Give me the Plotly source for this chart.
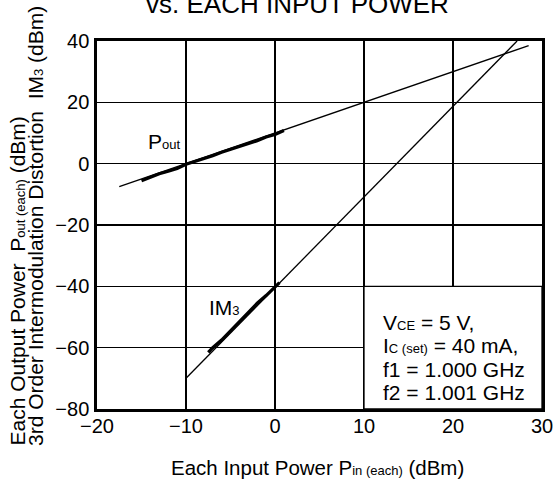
import plotly.graph_objects as go

# ---- data ----
pout_line_x = [-17.5, 28.5]
pout_line_y = [-7.5, 38.5]
im3_line_x = [-10, 27.2]
im3_line_y = [-70, 40]

pout_meas_x = [-15, -14, -13, -12, -11, -10, -9, -8, -7, -6, -5, -4, -3, -2, -1, 0, 1]
pout_meas_y = [-5.6, -4.4, -3.3, -2.5, -1.6, -0.2, 0.7, 1.6, 2.6, 3.7, 4.6, 5.5, 6.4, 7.5, 8.7, 9.5, 10.8]

im3_meas_x = [-7.5, -7, -6, -5, -4, -3, -2, -1, 0, 0.5]
im3_meas_y = [-61.5, -60, -57.5, -54.5, -51.5, -48.5, -45.5, -43, -40.3, -38.8]

x_ticks = [-20, -10, 0, 10, 20, 30]
y_ticks = [-80, -60, -40, -20, 0, 20, 40]

cond_lines = [
    "V<span style='font-size:13px'>CE</span> = 5 V,",
    "I<span style='font-size:13px'>C (set)</span> = 40 mA,",
    "f1 = 1.000 GHz",
    "f2 = 1.001 GHz",
]

# ---- layout geometry ----
W, H = 553, 485
L, R, T, B = 97, 11, 41, 76
PW, PH = W - L - R, H - T - B
FONT = "Liberation Sans, Arial, Helvetica, sans-serif"

def pxx(px):  # pixel -> paper x
    return (px - L) / PW

def pyy(py):  # pixel -> paper y
    return (H - B - py) / PH

def lab(v):
    return ("\u2212" + str(-v)) if v < 0 else str(v)

fig = go.Figure()
fig.add_trace(go.Scatter(x=pout_line_x, y=pout_line_y, mode="lines",
                         line=dict(color="black", width=1.3), hoverinfo="skip"))
fig.add_trace(go.Scatter(x=im3_line_x, y=im3_line_y, mode="lines",
                         line=dict(color="black", width=1.3), hoverinfo="skip"))
fig.add_trace(go.Scatter(x=pout_meas_x, y=pout_meas_y, mode="lines",
                         line=dict(color="black", width=3.2), hoverinfo="skip"))
fig.add_trace(go.Scatter(x=im3_meas_x, y=im3_meas_y, mode="lines",
                         line=dict(color="black", width=3.2), hoverinfo="skip"))

# condition box (white, covers grid)
fig.add_shape(type="rect", xref="x", yref="y", x0=10, x1=30, y0=-80, y1=-40,
              fillcolor="white", line=dict(color="black", width=1.3), layer="between")

annots = []
big = 21
for i, t in enumerate(cond_lines):
    annots.append(dict(xref="paper", yref="paper", x=pxx(381), y=pyy(322.5 + i * 23.3),
                       xanchor="left", yanchor="middle", text=t, showarrow=False,
                       font=dict(size=big, color="black", family=FONT)))
annots.append(dict(xref="paper", yref="paper", x=pxx(146), y=pyy(141.5), xanchor="left",
                   yanchor="middle", showarrow=False,
                   text="P<span style='font-size:13px'>out</span>",
                   font=dict(size=big, color="black", family=FONT)))
annots.append(dict(xref="paper", yref="paper", x=pxx(207), y=pyy(307.5), xanchor="left",
                   yanchor="middle", showarrow=False,
                   text="IM<span style='font-size:13px'>3</span>",
                   font=dict(size=big, color="black", family=FONT)))
annots.append(dict(xref="paper", yref="paper", x=pxx(297), y=pyy(4), xanchor="center",
                   yanchor="middle", showarrow=False, text="vs. EACH INPUT POWER",
                   font=dict(size=26, color="black", family=FONT)))
annots.append(dict(xref="paper", yref="paper", x=pxx(317), y=pyy(467), xanchor="center",
                   yanchor="middle", showarrow=False,
                   text="Each Input Power P<span style='font-size:13px'>in (each)</span> (dBm)",
                   font=dict(size=20.5, color="black", family=FONT)))
annots.append(dict(xref="paper", yref="paper", x=pxx(17), y=pyy(448), xanchor="center",
                   yanchor="bottom", textangle=-90, showarrow=False,
                   text="Each Output Power  P<span style='font-size:13px'>out (each)</span> (dBm)",
                   font=dict(size=21, color="black", family=FONT)))
annots.append(dict(xref="paper", yref="paper", x=pxx(35), y=pyy(448), xanchor="center",
                   yanchor="bottom", textangle=-90, showarrow=False,
                   text="3rd Order Intermodulation Distortion  IM<span style='font-size:13px'>3</span> (dBm)",
                   font=dict(size=21, color="black", family=FONT)))

fig.update_layout(
    width=W, height=H,
    margin=dict(l=L, r=R, t=T, b=B, pad=0, autoexpand=False),
    paper_bgcolor="white", plot_bgcolor="white",
    showlegend=False,
    annotations=annots,
    font=dict(family=FONT, size=20, color="black"),
)
fig.update_xaxes(range=[-20, 30], tickvals=x_ticks, ticktext=[lab(v) for v in x_ticks],
                 showgrid=True, gridcolor="black", gridwidth=1.3,
                 showline=True, linecolor="black", linewidth=2.7, mirror=True,
                 zeroline=False, ticks="", ticklabelstandoff=-3, automargin=False,
                 ticklabeloverflow="allow",
                 tickfont=dict(size=20, color="black", family=FONT))
fig.update_yaxes(range=[-80, 40], tickvals=y_ticks, ticktext=[lab(v) for v in y_ticks],
                 showgrid=True, gridcolor="black", gridwidth=1.3,
                 showline=True, linecolor="black", linewidth=2.7, mirror=True,
                 zeroline=False, ticks="", ticklabelstandoff=1, automargin=False,
                 ticklabeloverflow="allow",
                 tickfont=dict(size=20, color="black", family=FONT))

fig.write_html("out.html",
               config={"displayModeBar": False, "staticPlot": True},
               post_script="document.body.style.margin='0';document.body.style.padding='0';")
